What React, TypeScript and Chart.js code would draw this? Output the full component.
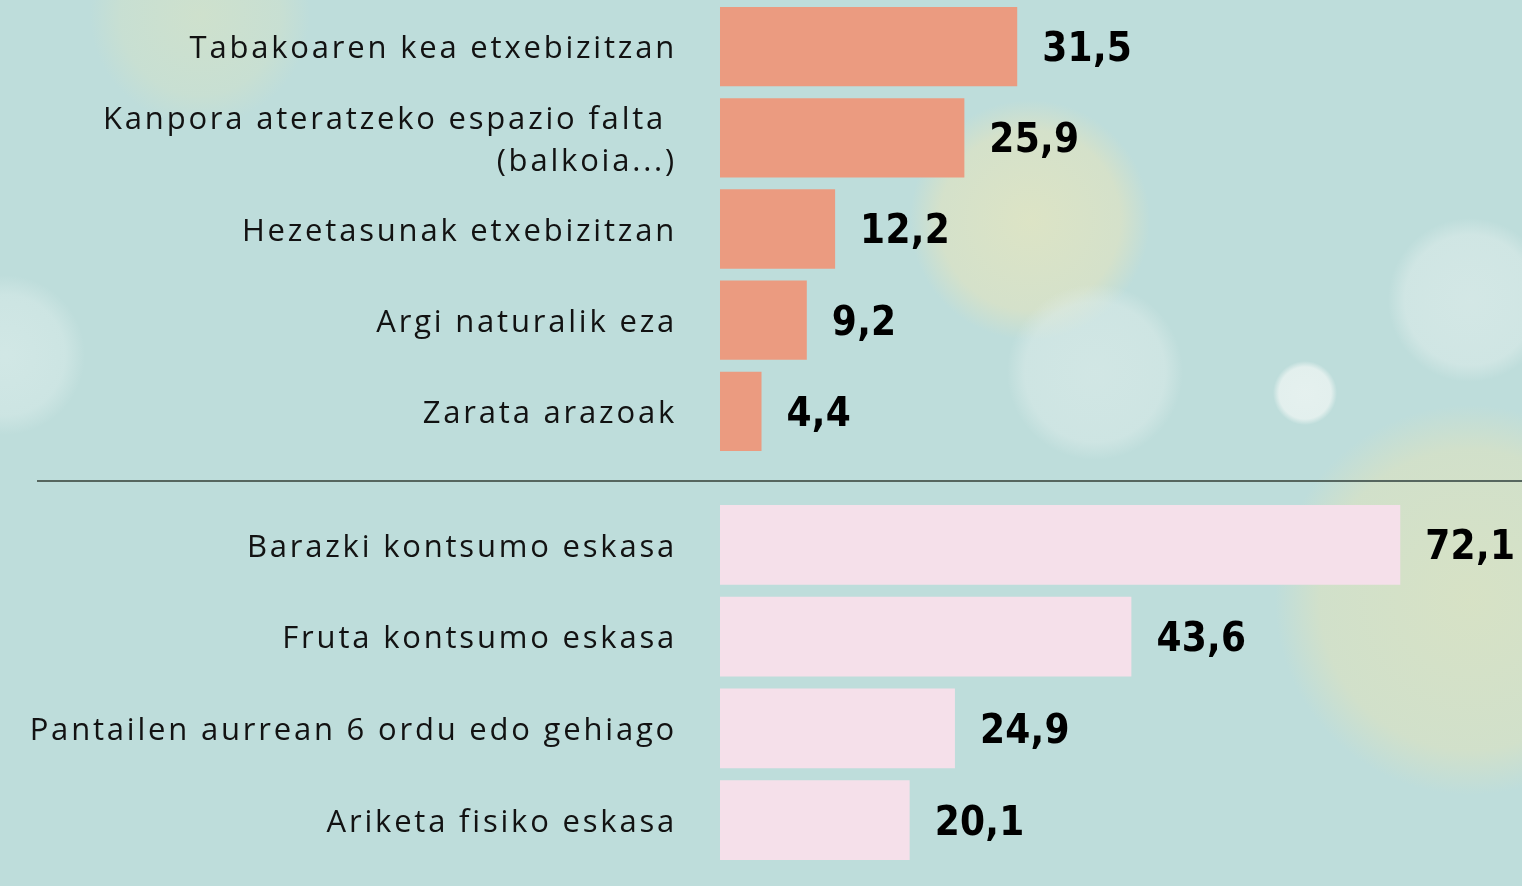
import React, { useEffect, useRef } from 'react';
import { Chart, registerables } from 'chart.js';

Chart.register(...registerables);

const topCategories: (string | string[])[] = [
  'Tabakoaren kea etxebizitzan',
  ['Kanpora ateratzeko espazio falta ', '(balkoia...)'],
  'Hezetasunak etxebizitzan',
  'Argi naturalik eza',
  'Zarata arazoak',
];
const topValues = [31.5, 25.9, 12.2, 9.2, 4.4];

const bottomCategories: (string | string[])[] = [
  'Barazki kontsumo eskasa',
  'Fruta kontsumo eskasa',
  'Pantailen aurrean 6 ordu edo gehiago',
  'Ariketa fisiko eskasa',
];
const bottomValues = [72.1, 43.6, 24.9, 20.1];

const xMin = 0;
const xMax = 85;

const TOP_COLOR = '#eb9b80';
const BOTTOM_COLOR = '#f5e0ea';
const LABEL_FONT = '"Open Sans", "DejaVu Sans", sans-serif';
const VALUE_FONT = '"DejaVu Sans Condensed", "DejaVu Sans", sans-serif';

const fmt = (v: number) => v.toFixed(1).replace('.', ',');

function makeChart(canvas: HTMLCanvasElement, labels: (string | string[])[], values: number[], color: string) {
  const valuePlugin = {
    id: 'valueLabels',
    beforeDraw(chart: any) {
      chart.ctx.letterSpacing = '2.8px';
    },
    afterDatasetsDraw(chart: any) {
      const ctx = chart.ctx as CanvasRenderingContext2D;
      const meta = chart.getDatasetMeta(0);
      ctx.save();
      (ctx as any).letterSpacing = '0.3px';
      ctx.font = `bold 40px ${VALUE_FONT}`;
      ctx.fillStyle = '#000';
      ctx.textAlign = 'left';
      ctx.textBaseline = 'middle';
      meta.data.forEach((bar: any, i: number) => {
        ctx.fillText(fmt(values[i]), bar.x + 25, bar.y + 4);
      });
      ctx.restore();
    },
  };

  return new Chart(canvas, {
    type: 'bar',
    data: {
      labels,
      datasets: [
        {
          data: values,
          backgroundColor: color,
          borderWidth: 0,
          barPercentage: 0.87,
          categoryPercentage: 1,
        },
      ],
    },
    options: {
      indexAxis: 'y',
      responsive: false,
      animation: false,
      layout: { padding: 0 },
      plugins: {
        legend: { display: false },
        tooltip: { enabled: false },
      },
      scales: {
        x: {
          min: xMin,
          max: xMax,
          display: false,
        },
        y: {
          grid: { display: false, drawTicks: false },
          border: { display: false },
          ticks: {
            color: '#121212',
            padding: 43,
            labelOffset: 3,
            font: { family: LABEL_FONT, size: 31, lineHeight: 1.35 },
          },
          afterFit: (scale: any) => {
            scale.width = 720;
            scale.paddingTop = 0;
            scale.paddingBottom = 0;
          },
        },
      },
    },
    plugins: [valuePlugin],
  } as any);
}

export default function App() {
  const topRef = useRef<HTMLCanvasElement>(null);
  const bottomRef = useRef<HTMLCanvasElement>(null);

  useEffect(() => {
    const a = makeChart(topRef.current!, topCategories, topValues, TOP_COLOR);
    const b = makeChart(bottomRef.current!, bottomCategories, bottomValues, BOTTOM_COLOR);
    return () => {
      a.destroy();
      b.destroy();
    };
  }, []);

  const background = [
    'radial-gradient(circle at 1305px 393px, rgba(236,244,242,0.85) 0, rgba(236,244,242,0.8) 26px, rgba(236,244,242,0) 32px)',
    'radial-gradient(circle at 1095px 372px, rgba(225,238,236,0.55) 0, rgba(225,238,236,0.45) 70px, rgba(225,238,236,0) 88px)',
    'radial-gradient(circle at 1470px 300px, rgba(225,238,236,0.6) 0, rgba(225,238,236,0.5) 65px, rgba(225,238,236,0) 82px)',
    'radial-gradient(circle at 5px 355px, rgba(222,238,236,0.6) 0, rgba(222,238,236,0.45) 60px, rgba(222,238,236,0) 80px)',
    'radial-gradient(circle at 1030px 220px, rgba(222,228,196,0.95) 0, rgba(218,226,198,0.8) 90px, rgba(210,224,205,0) 120px)',
    'radial-gradient(circle at 1470px 600px, rgba(216,226,196,0.95) 0, rgba(214,225,198,0.8) 150px, rgba(210,224,205,0) 195px)',
    'radial-gradient(circle at 200px 15px, rgba(212,226,200,0.75) 0, rgba(212,226,200,0.45) 80px, rgba(212,226,200,0) 110px)',
    '#bedddb',
  ].join(', ');

  return (
    <div
      style={{
        position: 'fixed',
        left: 0,
        top: 0,
        width: 1522,
        height: 886,
        overflow: 'hidden',
        background,
      }}
    >
      <canvas
        ref={topRef}
        width={1522}
        height={456}
        style={{ position: 'absolute', left: 0, top: 1, width: 1522, height: 456 }}
      />
      <div
        style={{
          position: 'absolute',
          left: 37,
          right: 0,
          top: 480,
          height: 2,
          background: '#56665f',
        }}
      />
      <canvas
        ref={bottomRef}
        width={1522}
        height={367}
        style={{ position: 'absolute', left: 0, top: 499, width: 1522, height: 367 }}
      />
    </div>
  );
}
